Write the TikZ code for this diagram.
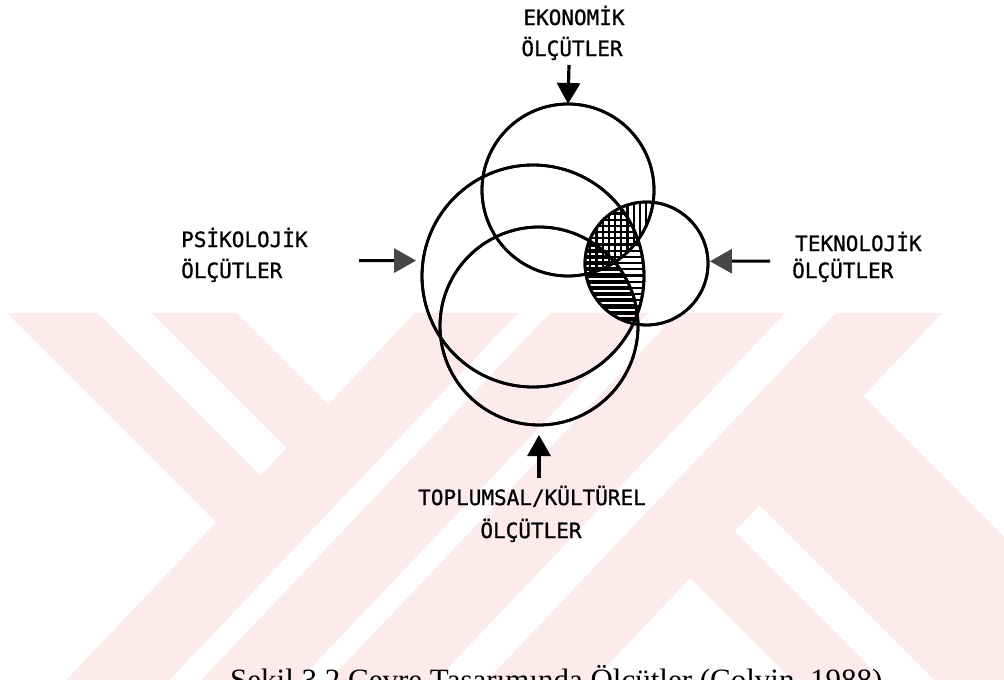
\documentclass[tikz,border=0pt]{standalone}
\usepackage{fontspec}
\newfontfamily\labfont[FakeBold=1]{DejaVu Sans Mono}
\newfontfamily\capfont{Liberation Serif}
\usetikzlibrary{arrows.meta}
\definecolor{wmpink}{RGB}{253,234,237}
\begin{document}
\begin{tikzpicture}[x=1pt,y=-1pt,
  ring/.style={circle,draw,line width=2.8pt,inner sep=0pt,outer sep=0pt},
  lab/.style={font=\labfont\fontsize{21}{24}\selectfont,inner sep=0pt},
  arr/.style={line width=3.2pt,-{Triangle[length=21pt,width=23pt]}},
  arrg/.style={line width=3pt,-{Triangle[length=22pt,width=24pt,color=black!72]}},
  wm/.style={fill=wmpink},
  hl/.style={line width=2.2pt},
  hd/.style={line width=4.2pt}]
\useasboundingbox (0,0) rectangle (1004,680);
\fill[white] (0,0) rectangle (1004,680);
% watermark
\begin{scope}
  \clip (0,313) rectangle (1004,680);
  \fill[wm] (415,313) -- (518,313) -- (138,713) -- (35,713) -- cycle;
  \fill[wm] (550,313) -- (648,313) -- (268,713) -- (170,713) -- cycle;
  \fill[wm] (678,313) -- (785,313) -- (405,713) -- (298,713) -- cycle;
  \fill[wm] (836,313) -- (942,313) -- (562,713) -- (456,713) -- cycle;
  \begin{scope}
    \clip (0,313) -- (420,313) -- (40,713) -- (0,713) -- cycle;
    \fill[wm] (7,313) -- (98,313) -- (498,713) -- (407,713) -- cycle;
    \fill[wm] (152,313) -- (237,313) -- (637,713) -- (552,713) -- cycle;
  \end{scope}
  \begin{scope}
    \clip (937,313) -- (1004,313) -- (1004,713) -- (557,713) -- cycle;
    \fill[wm] (425,313) -- (516,313) -- (916,713) -- (825,713) -- cycle;
    \fill[wm] (567,313) -- (780,313) -- (1180,713) -- (967,713) -- cycle;
  \end{scope}
\end{scope}
% circles (positions)
\node[ring,minimum size=172pt] (E) at (568,190) {};
\node[ring,minimum size=222pt] (P) at (533,276) {};
\node[ring,minimum size=198pt] (S) at (539,326) {};
\node[ring,minimum size=123pt] (T) at (646.5,263.5) {};
% hatching inside T
\begin{scope}
  \clip (T.center) circle[radius=61.5pt];
  \begin{scope}
    \clip (P.center) circle[radius=111pt];
    \foreach \k in {0,...,21} \draw[hl] (580,201+6.2*\k) -- (712,201+6.2*\k);
  \end{scope}
  \begin{scope}
    \clip (E.center) circle[radius=86pt];
    \foreach \k in {0,...,21} \draw[hl] (584+6.2*\k,198) -- (584+6.2*\k,330);
  \end{scope}
  \begin{scope}
    \clip (S.center) circle[radius=99pt];
    \foreach \k in {0,...,21} \draw[hd] (580,201+6.2*\k) -- (712,201+6.2*\k);
  \end{scope}
\end{scope}
% redraw circle outlines on top
\draw[line width=2.8pt] (E.center) circle[radius=86pt];
\draw[line width=2.8pt] (P.center) circle[radius=111pt];
\draw[line width=2.8pt] (S.center) circle[radius=99pt];
\draw[line width=2.8pt] (T.center) circle[radius=61.5pt];
% arrows
\coordinate (eA) at (569,65);
\coordinate (pA) at (359,260.6);
\coordinate (tA) at (770,261);
\coordinate (sA) at (539,478);
\draw[arr] (eA) -- (E.north);
\draw[arrg,shorten >=7pt] (pA) -- (P.172);
\draw[arrg,shorten >=2pt] (tA) -- (T.2);
\draw[arr,shorten >=10pt] (sA) -- (S.south);
% labels
\node[lab,anchor=base] (ek1) at (574,25) {EKONOMİK};
\node[lab,anchor=base] (ek2) at (572,56) {ÖLÇÜTLER};
\node[lab,anchor=base west] (ps1) at (181,247) {PSİKOLOJİK};
\node[lab,anchor=base west] (ps2) at (181,278) {ÖLÇÜTLER};
\node[lab,anchor=base west] (te1) at (795,251) {TEKNOLOJİK};
\node[lab,anchor=base west] (te2) at (792,278) {ÖLÇÜTLER};
\node[lab,anchor=base] (to1) at (532,505) {TOPLUMSAL/KÜLTÜREL};
\node[lab,anchor=base] (to2) at (531,538) {ÖLÇÜTLER};
% caption (cut off by the page edge, as in the reference)
\node[font=\capfont\fontsize{31}{36}\selectfont,anchor=base west,inner sep=0pt] (cap) at (230,690) {Şekil 3.2 Çevre Tasarımında Ölçütler (Colvin, 1988)};
\end{tikzpicture}
\end{document}
